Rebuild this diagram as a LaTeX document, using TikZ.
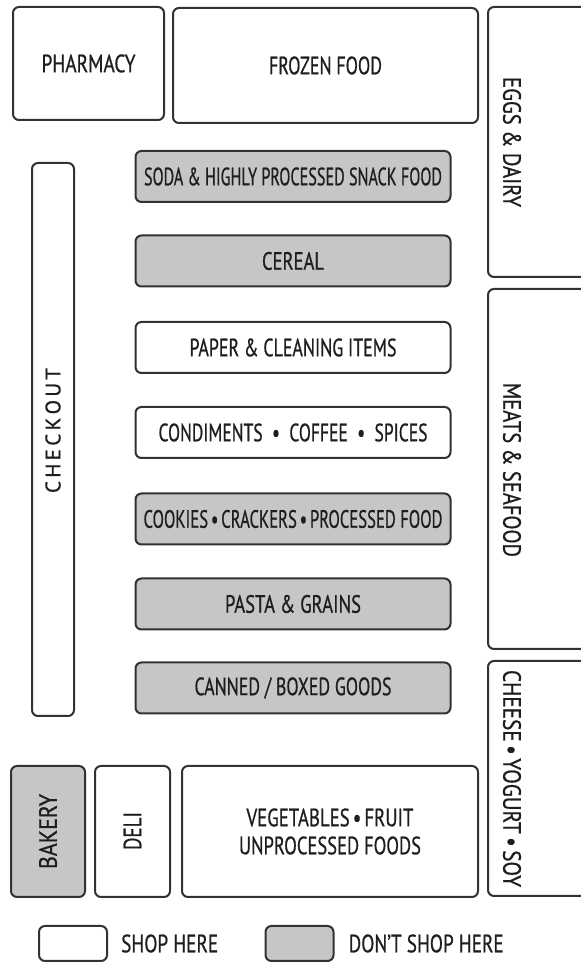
\documentclass[tikz,border=0pt]{standalone}
\usepackage{fontspec}
\setmainfont{PT Sans}[FakeBold=0.8]
\usepackage{graphicx}
\usetikzlibrary{positioning}
\definecolor{aisleLine}{RGB}{50,50,50}
\definecolor{aisleGray}{RGB}{198,198,198}
\definecolor{aisleText}{RGB}{30,30,30}
\newcommand{\fitw}[2]{\resizebox{#1}{\height}{#2}}

\begin{document}
\begin{tikzpicture}[x=1pt,y=1pt,
  box/.style={draw=aisleLine, line width=2pt, rounded corners=6pt, inner sep=0pt, text=aisleText, font=\fontsize{25}{27}\selectfont},
  shop/.style={box, fill=white},
  skip/.style={box, fill=aisleGray},
  lbl/.style={text=aisleText, inner sep=0pt, font=\fontsize{25}{27}\selectfont}]
\useasboundingbox (0,0) rectangle (581,962);
\begin{scope}
\clip (0,0) rectangle (581,962);
% top row
\node[shop, minimum width=151, minimum height=113] (pharmacy) at (88.5,898.5) {\fitw{94pt}{PHARMACY}};
\node[shop, minimum width=305, minimum height=115] (frozen) at (325.5,896.5) {\fitw{113pt}{FROZEN FOOD}};
% right wall (runs off the page)
\node[shop, minimum width=110, minimum height=270] (eggs) at (543,820) {};
\node[shop, minimum width=110, minimum height=360] (meats) at (543,493) {};
\node[shop, minimum width=110, minimum height=235] (cheese) at (543,183.5) {};
\end{scope}
\node[lbl, rotate=-90] (eggsText) at (512,820) {\fitw{130pt}{EGGS \& DAIRY}};
\node[lbl, rotate=-90] (meatsText) at (512,492) {\fitw{174pt}{MEATS \& SEAFOOD}};
\node[lbl, rotate=-90] (cheeseText) at (512,183.5) {\fitw{217pt}{CHEESE\,\textbullet\,YOGURT\,\textbullet\,SOY}};
% checkout
\node[shop, minimum width=42, minimum height=553] (checkout) at (53,522.5) {};
\node[lbl, rotate=90, font=\fontsize{21}{23}\selectfont] (checkoutText) at (53,531.5)
  {\makebox[125pt][s]{C\hfil H\hfil E\hfil C\hfil K\hfil O\hfil U\hfil T}};
% aisles
\node[skip, minimum width=315, minimum height=51] (soda) at (293,785.5) {\fitw{298pt}{SODA \& HIGHLY PROCESSED SNACK FOOD}};
\node[skip, minimum width=315, minimum height=51] (cereal) at (293,701) {\fitw{62pt}{CEREAL}};
\node[shop, minimum width=315, minimum height=51] (paper) at (293,614.5) {\fitw{207pt}{PAPER \& CLEANING ITEMS}};
\node[shop, minimum width=315, minimum height=51] (condiments) at (293,529.5) {\fitw{269pt}{CONDIMENTS \ \textbullet\ \ COFFEE \ \textbullet\ \ SPICES}};
\node[skip, minimum width=315, minimum height=51] (cookies) at (293,443) {\fitw{299pt}{COOKIES\,\textbullet\,CRACKERS\,\textbullet\,PROCESSED FOOD}};
\node[skip, minimum width=315, minimum height=51] (pasta) at (293,358) {\fitw{136pt}{PASTA \& GRAINS}};
\node[skip, minimum width=315, minimum height=51] (canned) at (293,274) {\fitw{197pt}{CANNED / BOXED GOODS}};
% bottom row
\node[skip, minimum width=74, minimum height=131] (bakery) at (48,130.5) {};
\node[lbl, rotate=90] (bakeryText) at (48,130.5) {\fitw{75pt}{BAKERY}};
\node[shop, minimum width=75, minimum height=131] (deli) at (132.5,130.5) {};
\node[lbl, rotate=90] (deliText) at (132.5,131) {\fitw{38pt}{DELI}};
\node[shop, minimum width=296, minimum height=131, align=center] (veg) at (330,130.5)
  {\fitw{167pt}{VEGETABLES\,\textbullet\,FRUIT}\\[1pt]\fitw{182pt}{UNPROCESSED FOODS}};
% legend
\node[shop, minimum width=68, minimum height=35] (keyShop) at (73,18.5) {};
\node[lbl, right=13pt of keyShop] (keyShopText) {\fitw{97pt}{SHOP HERE}};
\node[skip, minimum width=68, minimum height=35] (keySkip) at (299.5,18.5) {};
\node[lbl, right=14pt of keySkip] (keySkipText) {\fitw{155pt}{DON'T SHOP HERE}};
\end{tikzpicture}
\end{document}
